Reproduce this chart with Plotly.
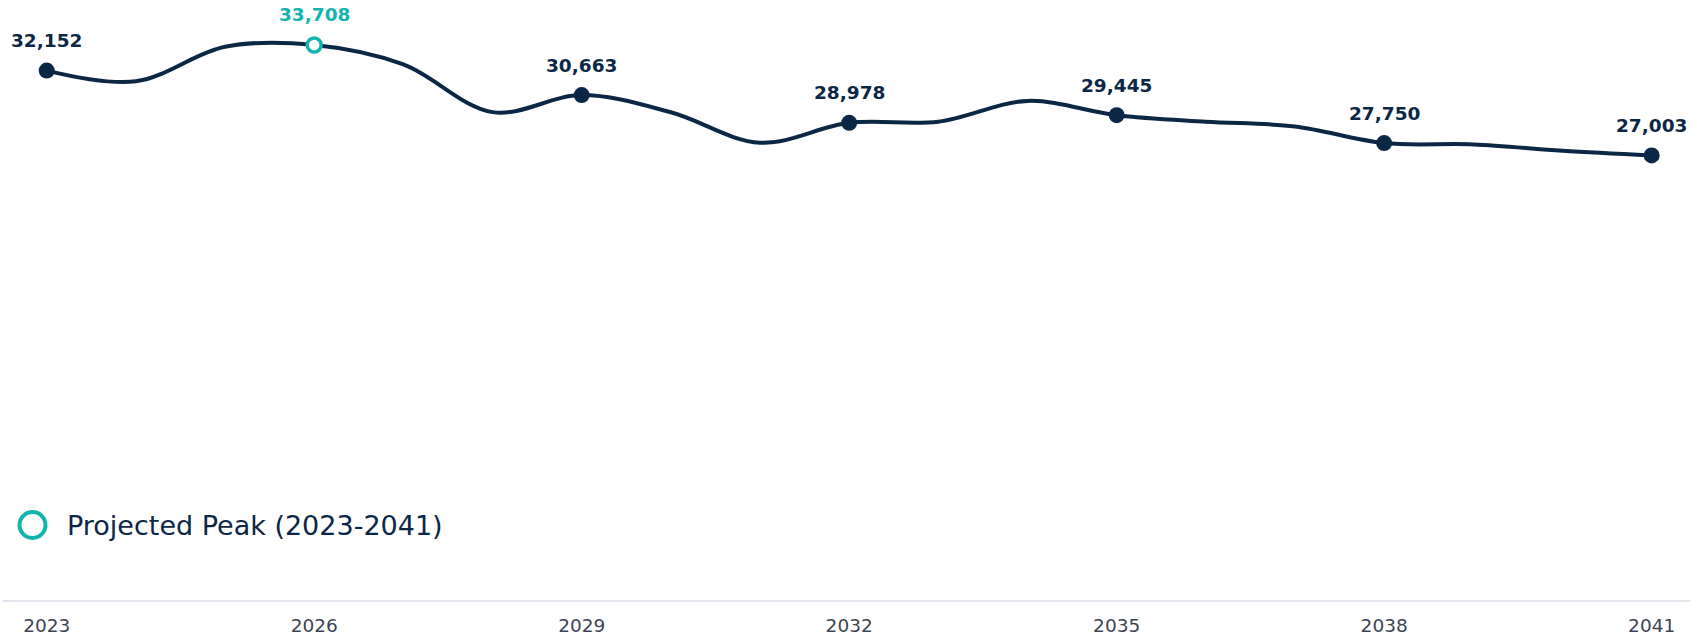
import plotly.graph_objects as go

# ---- data ----
years = list(range(2023, 2042))
values = [32152, 31500, 33600, 33708, 32530, 29630, 30663, 29620, 27770,
          28978, 29050, 30310, 29445, 29050, 28760, 27750, 27670, 27290, 27003]
marker_years = [2023, 2026, 2029, 2032, 2035, 2038, 2041]
peak_year = 2026
legend_label = "Projected Peak (2023-2041)"
tick_labels = [str(y) for y in marker_years]

NAVY = "#0b2746"
TEAL = "#13b3ae"
FONT = "DejaVu Sans"

val_by_year = dict(zip(years, values))
m_x = [y for y in marker_years if y != peak_year]
m_y = [val_by_year[y] for y in m_x]

fig = go.Figure()
fig.add_trace(go.Scatter(
    x=years, y=values, mode="lines",
    line=dict(color=NAVY, width=4, shape="spline", smoothing=1.0),
    hoverinfo="skip", showlegend=False))
fig.add_trace(go.Scatter(
    x=m_x, y=m_y, mode="markers",
    marker=dict(color=NAVY, size=16, line=dict(width=0)),
    showlegend=False))
fig.add_trace(go.Scatter(
    x=[peak_year], y=[val_by_year[peak_year]], mode="markers",
    marker=dict(color="white", size=14, line=dict(color=TEAL, width=3.5)),
    showlegend=False))

W, H = 1694, 637
ML, MR, MT, MB = 3, 4, 0, 37
pw, ph = W - ML - MR, H - MT - MB


def px_to_paper(px, py):
    return (px - ML) / pw, 1 - (py - MT) / ph


annotations = []
for y in marker_years:
    v = val_by_year[y]
    annotations.append(dict(
        x=y, y=v, xref="x", yref="y", text=f"{v:,}", showarrow=False,
        yshift=30, font=dict(family=FONT, size=18.5, color=TEAL if y == peak_year else NAVY,
                             weight="bold")))

# legend (drawn manually for a large symbol)
lx, ly = px_to_paper(65, 525)
annotations.append(dict(
    x=lx, y=ly, xref="paper", yref="paper", text=legend_label, showarrow=False,
    xanchor="left", yanchor="middle",
    font=dict(family=FONT, size=27, color=NAVY)))

cx, cy = px_to_paper(32.5, 525)
fig.add_shape(type="circle", xref="paper", yref="paper",
              xsizemode="pixel", ysizemode="pixel",
              xanchor=cx, yanchor=cy, x0=-13, x1=13, y0=-13, y1=13,
              line=dict(color=TEAL, width=4), fillcolor="white")

fig.update_layout(
    annotations=annotations,
    width=W, height=H,
    margin=dict(l=ML, r=MR, t=MT, b=MB),
    plot_bgcolor="white", paper_bgcolor="white",
    font=dict(family=FONT),
    xaxis=dict(range=[2022.51, 2041.43], tickvals=marker_years, ticktext=tick_labels,
               showgrid=False, zeroline=False, showline=True, linecolor="#e1e5eb",
               linewidth=2, ticks="", ticklabelstandoff=8,
               tickfont=dict(family=FONT, size=18.5, color="#3d4452")),
    yaxis=dict(range=[0, 36440], visible=False, showgrid=False, zeroline=False),
    showlegend=False,
)

fig.write_html("out.html", config={"displayModeBar": False},
               post_script="document.body.style.margin='0';")
